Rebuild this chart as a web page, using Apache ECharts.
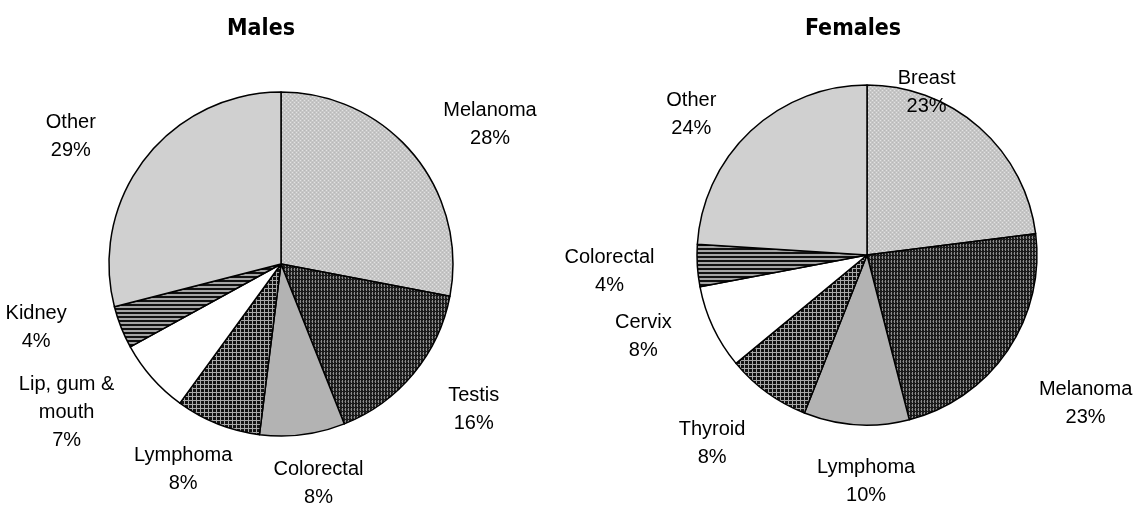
<!DOCTYPE html>
<html><head><meta charset="utf-8">
<script src="https://cdn.jsdelivr.net/npm/echarts@6/dist/echarts.min.js"></script>
<style>html,body{margin:0;padding:0;background:#fff}#c{width:1134px;height:506px}</style>
</head><body><div id="c"></div>
<script>
// ---- data ----
const chartTitles = ['Males', 'Females'];
const maleCategories = ['Melanoma', 'Testis', 'Colorectal', 'Lymphoma', 'Lip, gum &\nmouth', 'Kidney', 'Other'];
const maleValues = [28, 16, 8, 8, 7, 4, 29];
const femaleCategories = ['Breast', 'Melanoma', 'Lymphoma', 'Thyroid', 'Cervix', 'Colorectal', 'Other'];
const femaleValues = [23, 23, 10, 8, 8, 4, 24];

// ---- styling / layout ----
const fillKinds = ['lightDots', 'darkDots', 'gray', 'grid', 'white', 'stripes', 'other'];
const maleNudge = [[2, 1], [2, 5], [4, 1], [2, 1], [-12, -6], [-10, -18], [-15, 7]];
const femaleNudge = [[-105, 1], [-2, 26], [16, 9], [-6, 12], [1, -11], [7, 3], [-8, 18]];
const GX = 50, GY = 20;

function tile(w, h, draw) {
  const c = document.createElement('canvas');
  c.width = w; c.height = h;
  const g = c.getContext('2d');
  draw(g);
  return { image: c, repeat: 'repeat' };
}
function px(g, col, x, y, w, h) { g.fillStyle = col; g.fillRect(x, y, w || 1, h || 1); }
function makeFill(kind) {
  switch (kind) {
    case 'lightDots': return tile(4, 4, g => {
      px(g, '#c6c6c6', 0, 0, 4, 4);
      px(g, '#e2e2e2', 0, 0); px(g, '#e2e2e2', 2, 2);
      px(g, '#b8b8b8', 2, 0); px(g, '#b8b8b8', 0, 2);
    });
    case 'darkDots': return tile(3, 4, g => {
      px(g, '#1a1a1a', 0, 0, 3, 4);
      px(g, '#8c8c8c', 0, 0, 1, 3);
      px(g, '#4a4a4a', 2, 1);
    });
    case 'grid': return tile(4, 4, g => {
      px(g, '#121212', 0, 0, 4, 4);
      px(g, '#a8a8a8', 0, 0, 4, 1);
      px(g, '#a8a8a8', 0, 0, 1, 4);
    });
    case 'stripes': return tile(4, 4, g => {
      px(g, '#111111', 0, 0, 4, 2);
      px(g, '#a4a4a4', 0, 2, 4, 2);
    });
    case 'gray': return '#b3b3b3';
    case 'white': return '#ffffff';
    default: return '#d0d0d0';
  }
}

function makeLayout(values, cx, cy, R, nudges) {
  const total = values.reduce((a, b) => a + b, 0);
  return function (p) {
    const i = p.dataIndex;
    let before = 0;
    for (let k = 0; k < i; k++) before += values[k];
    const mid = (before + values[i] / 2) / total * 2 * Math.PI;
    const dx = Math.sin(mid), dy = -Math.cos(mid);
    const w = p.labelRect.width, h = p.labelRect.height;
    return {
      x: cx + dx * R + dx * (w / 2 + GX) + nudges[i][0],
      y: cy + dy * R + dy * (h / 2 + GY) + nudges[i][1],
      align: 'center',
      verticalAlign: 'middle'
    };
  };
}

function makeSeries(names, values, cx, cy, R, nudges) {
  return {
    type: 'pie',
    center: [cx, cy],
    radius: R,
    startAngle: 90,
    clockwise: true,
    avoidLabelOverlap: false,
    silent: true,
    animation: false,
    data: names.map((n, i) => ({
      name: n, value: values[i],
      itemStyle: { color: makeFill(fillKinds[i]) }
    })),
    itemStyle: { borderColor: '#000', borderWidth: 1.5 },
    label: {
      show: true,
      position: 'outside',
      formatter: p => p.name + '\n' + p.value + '%',
      fontFamily: 'Liberation Sans, Arial, sans-serif',
      fontSize: 20,
      lineHeight: 28,
      color: '#000',
      align: 'center'
    },
    labelLine: { show: false },
    labelLayout: makeLayout(values, cx, cy, R, nudges)
  };
}

const titleStyle = { fontFamily: 'DejaVu Sans Condensed, DejaVu Sans, sans-serif', fontWeight: 'bold', fontSize: 23, color: '#000' };
const chart = echarts.init(document.getElementById('c'), null, { renderer: 'canvas' });
chart.setOption({
  backgroundColor: '#fff',
  animation: false,
  title: [
    { text: chartTitles[0], left: 256, top: 13, textAlign: 'center', textStyle: titleStyle },
    { text: chartTitles[1], left: 848, top: 13, textAlign: 'center', textStyle: titleStyle }
  ],
  series: [
    makeSeries(maleCategories, maleValues, 281, 264, 172, maleNudge),
    makeSeries(femaleCategories, femaleValues, 867, 255, 170, femaleNudge)
  ]
});
</script>
</body></html>
